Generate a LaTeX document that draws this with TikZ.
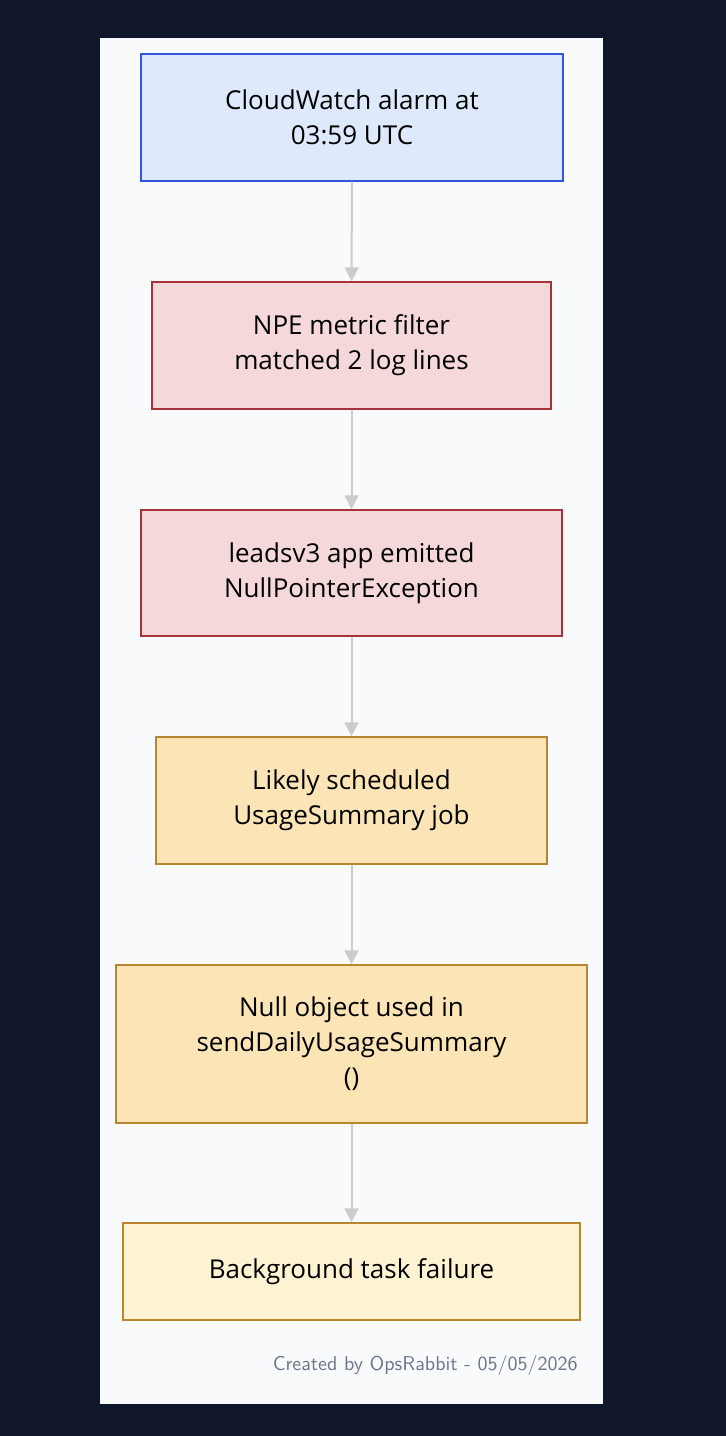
\documentclass[tikz,border=0pt]{standalone}
\usepackage{fontspec}
\setmainfont{Open Sans}
\usetikzlibrary{positioning,arrows.meta}
\definecolor{pagebg}{HTML}{11172A}
\definecolor{panelbg}{HTML}{F8FAFC}
\definecolor{blueFill}{HTML}{DEE9FB}
\definecolor{blueLine}{HTML}{3355DD}
\definecolor{redFill}{HTML}{F4D8DA}
\definecolor{redLine}{HTML}{A8323A}
\definecolor{orangeFill}{HTML}{FBE5B6}
\definecolor{orangeLine}{HTML}{B8862E}
\definecolor{yellowFill}{HTML}{FDF3D3}
\definecolor{edgeGray}{HTML}{CCCCCC}
\definecolor{footGray}{HTML}{6B7689}
\tikzset{
  stage/.style={draw, line width=0.7pt, align=center, inner sep=0pt,
    font=\fontsize{13}{17.5}\selectfont, text=black},
  flow/.style={draw=edgeGray, line width=1pt, -{Triangle[length=7pt,width=7pt]}}
}
\begin{document}
\begin{tikzpicture}[x=0.5pt,y=-0.5pt]
  \fill[pagebg] (0,0) rectangle (726,1436);
  \useasboundingbox (0,0) rectangle (726,1436);
  \fill[panelbg] (100,38) rectangle (603,1404);

  \node[stage, fill=blueFill, draw=blueLine, minimum width=211pt, minimum height=63.5pt]
    (alarm) at (352,117.5) {CloudWatch alarm at\\03:59 UTC};
  \node[stage, fill=redFill, draw=redLine, minimum width=199.5pt, minimum height=63.5pt]
    (filter) at (351.5,345.5) {NPE metric filter\\matched 2 log lines};
  \node[stage, fill=redFill, draw=redLine, minimum width=210.5pt, minimum height=63pt]
    (npe) at (351.5,573) {leadsv3 app emitted\\NullPointerException};
  \node[stage, fill=orangeFill, draw=orangeLine, minimum width=195.5pt, minimum height=63.5pt]
    (job) at (351.5,800.5) {Likely scheduled\\UsageSummary job};
  \node[stage, fill=orangeFill, draw=orangeLine, minimum width=235.5pt, minimum height=79pt]
    (null) at (351.5,1044) {Null object used in\\sendDailyUsageSummary\\()};
  \node[stage, fill=yellowFill, draw=orangeLine, minimum width=228.5pt, minimum height=48.5pt]
    (fail) at (351.5,1271.5) {Background task failure};

  \draw[flow] (alarm) -- (filter);
  \draw[flow] (filter) -- (npe);
  \draw[flow] (npe) -- (job);
  \draw[flow] (job) -- (null);
  \draw[flow] (null) -- (fail);

  \node[anchor=east, text=footGray, font=\fontsize{10}{12}\selectfont\sffamily, inner sep=0pt]
    (foot) at (578,1365) {Created by OpsRabbit - 05/05/2026};
\end{tikzpicture}
\end{document}
